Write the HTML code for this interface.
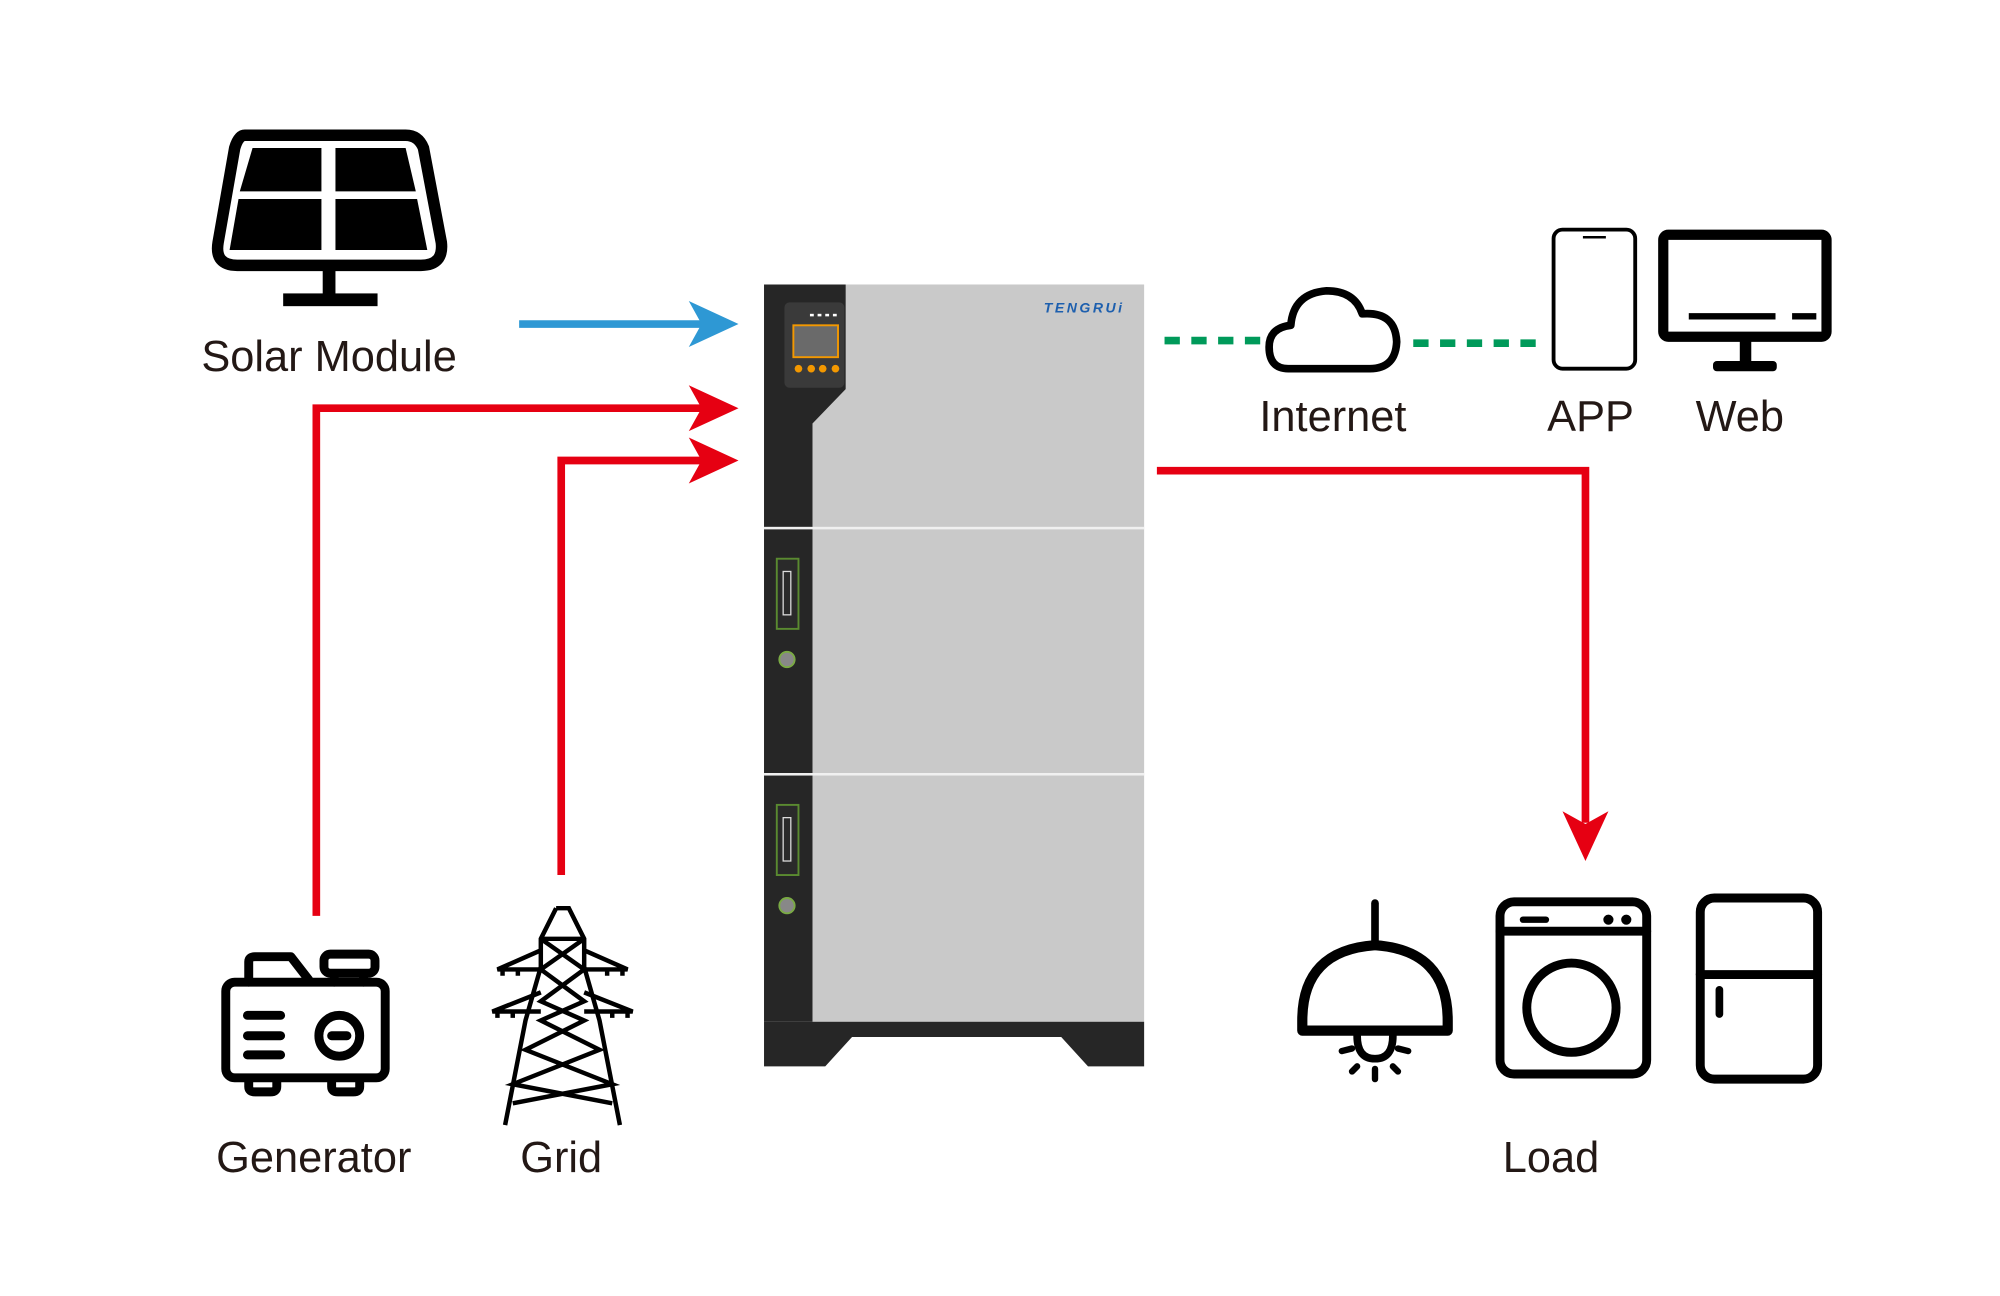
<!DOCTYPE html>
<html><head><meta charset="utf-8"><style>
html,body{margin:0;padding:0;background:#fff;}
svg{display:block;}
text{font-family:"Liberation Sans",sans-serif;fill:#231815;}
</style></head><body>
<svg width="2000" height="1296" viewBox="0 0 1568 1016" xmlns="http://www.w3.org/2000/svg">
<rect width="1568" height="1016" fill="#fff"/>

<!-- Solar panel -->
<g>
<path d="M192 106 L318 106 Q328 106 332 116 L346 190 Q348 208 330 208 L186 208 Q168 208 171 190 L184 116 Q187 106 192 106 Z" fill="none" stroke="#000" stroke-width="9"/>
<path d="M198 116 L252 116 L252 150 L188 150 Z" fill="#000"/>
<path d="M263 116 L318 116 L326 150 L263 150 Z" fill="#000"/>
<path d="M187 156 L252 156 L252 196 L180 196 Z" fill="#000"/>
<path d="M263 156 L327 156 L335 196 L263 196 Z" fill="#000"/>
<rect x="253" y="212" width="10" height="20" fill="#000"/>
<rect x="222" y="230" width="74" height="10" fill="#000"/>
</g>
<text x="258" y="291" font-size="34" text-anchor="middle">Solar Module</text>

<!-- Generator -->
<g fill="none" stroke="#000" stroke-width="7" stroke-linejoin="round" stroke-linecap="round">
<rect x="177" y="770" width="125" height="75" rx="7"/>
<path d="M195 770 L195 754 Q195 750 200 750 L228 750 L242 768"/>
<rect x="254" y="748" width="40" height="15" rx="5"/>
<line x1="262" y1="764" x2="262" y2="770"/><line x1="285" y1="764" x2="285" y2="770"/>
<line x1="194" y1="796" x2="220" y2="796"/><line x1="194" y1="812" x2="220" y2="812"/><line x1="194" y1="827" x2="220" y2="827"/>
<circle cx="266" cy="812" r="16"/>
<line x1="260" y1="812" x2="272" y2="812"/>
<path d="M195 846 L195 852 Q195 856 200 856 L212 856 Q217 856 217 852 L217 846"/>
<path d="M260 846 L260 852 Q260 856 265 856 L277 856 Q282 856 282 852 L282 846"/>
</g>
<text x="246" y="919" font-size="34" text-anchor="middle">Generator</text>

<!-- Grid tower -->
<g fill="none" stroke="#000" stroke-width="3.5">
<path d="M436 712 L446 712 L458 736 L458 758 L470 800 L486 882"/>
<path d="M436 712 L424 736 L424 758 L412 800 L396 882"/>
<line x1="424" y1="736" x2="458" y2="736"/>
<path d="M424 736 L458 760 L424 785 L458 800 L412 823 L480 850 L402 865"/>
<path d="M458 736 L424 760 L458 785 L424 800 L470 823 L402 850 L480 865"/>
<path d="M424 745 L390 760 L424 760"/><path d="M458 745 L492 760 L458 760"/>
<path d="M424 778 L386 793 L424 793"/><path d="M458 778 L496 793 L458 793"/>
<path d="M394 760v5M406 760v5M476 760v5M488 760v5M390 793v5M402 793v5M480 793v5M492 793v5"/>
</g>
<text x="440" y="919" font-size="34" text-anchor="middle">Grid</text>

<!-- Arrows -->
<line x1="407" y1="254" x2="550" y2="254" stroke="#2e98d4" stroke-width="6"/>
<path d="M540 236 L579 254 L540 272 L550 254 Z" fill="#2e98d4"/>
<path d="M248 718 L248 320 L550 320" fill="none" stroke="#e60012" stroke-width="6"/>
<path d="M540 302 L579 320 L540 338 L550 320 Z" fill="#e60012"/>
<path d="M440 686 L440 361 L550 361" fill="none" stroke="#e60012" stroke-width="6"/>
<path d="M540 343 L579 361 L540 379 L550 361 Z" fill="#e60012"/>
<path d="M907 369 L1243 369 L1243 645" fill="none" stroke="#e60012" stroke-width="6"/>
<path d="M1225 636 L1243 675 L1261 636 L1243 646 Z" fill="#e60012"/>

<line x1="913" y1="267" x2="992" y2="267" stroke="#009a5a" stroke-width="6" stroke-dasharray="12 9"/>
<line x1="1108" y1="269" x2="1206" y2="269" stroke="#009a5a" stroke-width="6" stroke-dasharray="12 9"/>

<!-- Cabinet -->
<rect x="599" y="223" width="298" height="578" fill="#c9c9c9"/>
<path d="M599 223 L663 223 L663 305 L637 332 L637 801 L599 801 Z" fill="#262626"/>
<rect x="615" y="237" width="47" height="67" rx="4" fill="#3a3a3a"/>
<rect x="622" y="255" width="35" height="25" fill="#6a6a6a" stroke="#f39800" stroke-width="1.5"/>
<g fill="#f39800"><circle cx="626" cy="289" r="3"/><circle cx="636" cy="289" r="3"/><circle cx="645" cy="289" r="3"/><circle cx="655" cy="289" r="3"/></g>
<g fill="#fff"><rect x="635" y="246" width="3" height="2"/><rect x="641" y="246" width="3" height="2"/><rect x="647" y="246" width="3" height="2"/><rect x="653" y="246" width="3" height="2"/></g>
<rect x="599" y="413" width="298" height="2" fill="#f0f0f0"/>
<rect x="599" y="606" width="298" height="2" fill="#f0f0f0"/>
<rect x="609" y="438" width="17" height="55" fill="#2a2a2a" stroke="#5a8a30" stroke-width="1.5"/>
<rect x="614" y="448" width="6" height="34" fill="none" stroke="#ddd" stroke-width="1"/>
<circle cx="617" cy="517" r="6" fill="#888" stroke="#7aaa44" stroke-width="1.5"/>
<rect x="609" y="631" width="17" height="55" fill="#2a2a2a" stroke="#5a8a30" stroke-width="1.5"/>
<rect x="614" y="641" width="6" height="34" fill="none" stroke="#ddd" stroke-width="1"/>
<circle cx="617" cy="710" r="6" fill="#888" stroke="#7aaa44" stroke-width="1.5"/>
<text x="850" y="245" font-size="11" font-weight="bold" font-style="italic" fill="#1d5fae" style="fill:#1d5fae" text-anchor="middle" letter-spacing="2">TENGRUi</text>
<path d="M599 801 L897 801 L897 836 L853 836 L832 813 L668 813 L647 836 L599 836 Z" fill="#262626"/>

<!-- Cloud -->
<path d="M1010 289 Q995 289 995 272 Q995 257 1012 255 Q1014 230 1040 228 Q1062 228 1068 246 Q1094 244 1095 268 Q1094 289 1074 289 Z" fill="none" stroke="#000" stroke-width="6" stroke-linejoin="round"/>
<text x="1045" y="338" font-size="34" text-anchor="middle">Internet</text>

<!-- Phone -->
<rect x="1218" y="180" width="64" height="109" rx="7" fill="none" stroke="#000" stroke-width="3"/>
<line x1="1241" y1="186" x2="1259" y2="186" stroke="#000" stroke-width="2"/>
<text x="1247" y="338" font-size="34" text-anchor="middle">APP</text>

<!-- Monitor -->
<rect x="1304" y="184" width="128" height="80" rx="4" fill="none" stroke="#000" stroke-width="8"/>
<line x1="1324" y1="248" x2="1392" y2="248" stroke="#000" stroke-width="5"/>
<line x1="1405" y1="248" x2="1424" y2="248" stroke="#000" stroke-width="5"/>
<rect x="1364" y="267" width="9" height="18" fill="#000"/>
<rect x="1343" y="283" width="50" height="8" rx="3" fill="#000"/>
<text x="1364" y="338" font-size="34" text-anchor="middle">Web</text>

<!-- Lamp -->
<g fill="none" stroke="#000" stroke-linecap="round" stroke-linejoin="round">
<line x1="1078" y1="708" x2="1078" y2="740" stroke-width="6"/>
<path d="M1021 808 L1021 800 Q1021 745 1078 741 Q1135 745 1135 800 L1135 808 Z" stroke-width="8"/>
<path d="M1064 812 Q1064 830 1078 830 Q1092 830 1092 812" stroke-width="6"/>
<path d="M1052 824 L1060 822 M1096 822 L1104 824 M1060 840 L1064 836 M1078 838 L1078 846 M1092 836 L1096 840" stroke-width="5"/>
</g>
<text x="1216" y="919" font-size="34" text-anchor="middle">Load</text>

<!-- Washer -->
<g fill="none" stroke="#000" stroke-width="7" stroke-linecap="round">
<rect x="1176" y="707" width="115" height="135" rx="11"/>
<line x1="1176" y1="730" x2="1291" y2="730"/>
<line x1="1194" y1="721" x2="1212" y2="721" stroke-width="5"/>
<circle cx="1261" cy="721" r="2" stroke-width="4"/><circle cx="1275" cy="721" r="2" stroke-width="4"/>
<circle cx="1232" cy="790" r="35"/>
</g>

<!-- Fridge -->
<g fill="none" stroke="#000" stroke-width="7" stroke-linecap="round">
<rect x="1333" y="704" width="92" height="142" rx="11"/>
<line x1="1333" y1="764" x2="1425" y2="764"/>
<line x1="1348" y1="776" x2="1348" y2="795" stroke-width="6"/>
</g>
</svg>
</body></html>
